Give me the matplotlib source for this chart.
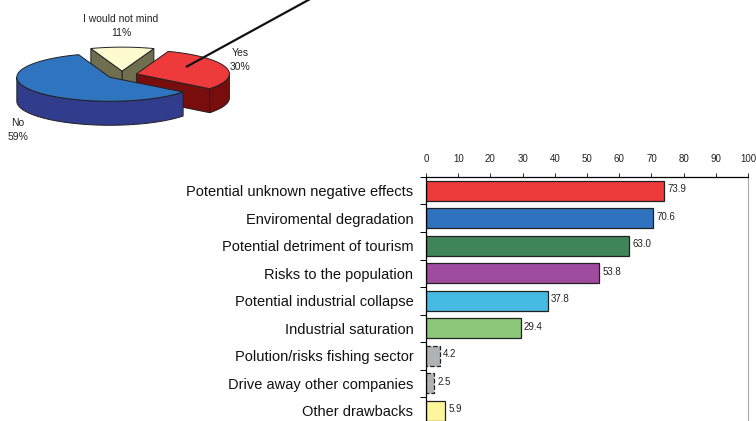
import numpy as np
import matplotlib.pyplot as plt
from matplotlib.patches import Polygon

plt.rcParams['font.family'] = ['Liberation Sans', 'DejaVu Sans']

# pie: would you accept the plant?
pie_labels = ['Yes', 'No', 'I would not mind']
pie_values = [30, 59, 11]
pie_top = ['#ee3a3a', '#2f74bf', '#fffbd0']
pie_side = ['#770d0d', '#323c8c', '#6f6f50']

# bars: perceived drawbacks (%)
categories = ['Potential unknown negative effects', 'Enviromental degradation',
              'Potential detriment of tourism', 'Risks to the population',
              'Potential industrial collapse', 'Industrial saturation',
              'Polution/risks fishing sector', 'Drive away other companies',
              'Other drawbacks']
values = [73.9, 70.6, 63.0, 53.8, 37.8, 29.4, 4.2, 2.5, 5.9]
bar_colors = ['#ee3a3a', '#2f72be', '#40855a', '#a04c9e', '#45bbe3',
              '#8bc879', '#b0b2b4', '#b0b2b4', '#fff59d']
bar_styles = ['solid'] * 6 + ['dashed', 'dashed', 'solid']

W, H = 756, 421
fig = plt.figure(figsize=(W / 100, H / 100), dpi=100)

# ---- 3D pie drawn in pixel space ----
axp = fig.add_axes([0, 0, 1, 1])
axp.set_xlim(0, W)
axp.set_ylim(H, 0)
axp.axis('off')

cx, cy = 122, 75
rx, ry = 93, 24
depth = 24
explode = 15
start = 70.0


def pt(x0, y0, t, dz=0):
    return (x0 + rx * np.cos(t), y0 - ry * np.sin(t) + dz)


slices = []
a = np.radians(start)
for i, v in enumerate(pie_values):
    span = np.radians(v / sum(pie_values) * 360)
    slices.append((i, a - span, a))
    a -= span

# paint back slices first
order = sorted(slices, key=lambda s: -np.sin((s[1] + s[2]) / 2))
for i, t1, t2 in order:
    mid = (t1 + t2) / 2
    x0 = cx + explode * np.cos(mid)
    y0 = cy - explode * ry / rx * np.sin(mid)
    kw = dict(edgecolor='#222222', linewidth=0.7)
    # radial walls facing the viewer
    for t, sgn in ((t1, -1), (t2, 1)):
        normal = t + sgn * np.pi / 2
        if np.sin(normal) < 0:
            e = pt(x0, y0, t)
            poly = [(x0, y0), e, (e[0], e[1] + depth), (x0, y0 + depth)]
            axp.add_patch(Polygon(poly, closed=True, facecolor=pie_side[i], **kw))
    # outer curved side (front half only)
    ts = np.linspace(t1, t2, 200)
    front = ts[np.sin(ts) < 0]
    if len(front) > 1:
        top = [pt(x0, y0, t) for t in front]
        bot = [pt(x0, y0, t, depth) for t in front[::-1]]
        axp.add_patch(Polygon(top + bot, closed=True, facecolor=pie_side[i], **kw))
    # top face
    face = [(x0, y0)] + [pt(x0, y0, t) for t in ts]
    axp.add_patch(Polygon(face, closed=True, facecolor=pie_top[i], **kw))

label_pos = {'Yes': (240, 60), 'No': (18, 130), 'I would not mind': (121, 26)}
for lab, v in zip(pie_labels, pie_values):
    x, y = label_pos[lab]
    axp.text(x, y, f'{lab}\n{v}%', ha='center', va='center', fontsize=7.5,
             color='#222222', linespacing=1.5)

axp.plot([186, 312], [67, -2], color='#111111', lw=1.6, solid_capstyle='butt')

# ---- horizontal bar chart ----
ax = fig.add_axes([426 / W, 1 - 424.5 / H, 322 / W, 247.5 / H])
y = np.arange(len(categories))
for yi, v, c, ls in zip(y, values, bar_colors, bar_styles):
    ax.barh(yi, v, height=0.74, color=c, edgecolor='#222222', linewidth=0.9,
            linestyle=ls)
    ax.text(v + 1.0, yi - 0.05, f'{v:.1f}', va='center', ha='left', fontsize=7,
            color='#222222')

ax.set_xlim(0, 100)
ax.set_ylim(len(categories) - 0.5, -0.5)
ax.set_xticks(np.arange(0, 101, 10))
ax.xaxis.tick_top()
ax.tick_params(axis='x', direction='out', length=3, width=0.7, labelsize=7,
               pad=6, colors='#222222')
ax.set_yticks(y)
ax.set_yticklabels(categories, fontsize=10.5, color='#111111')
ax.set_yticks(np.arange(len(categories) + 1) - 0.5, minor=True)
ax.tick_params(axis='y', which='major', length=0, pad=9)
ax.tick_params(axis='y', which='minor', direction='out', length=4, width=0.7)
ax.spines['bottom'].set_visible(False)
ax.spines['right'].set_color('#a8a8a8')
ax.spines['top'].set_linewidth(0.9)
ax.spines['left'].set_linewidth(0.9)

fig.savefig('out.png', dpi=100)
